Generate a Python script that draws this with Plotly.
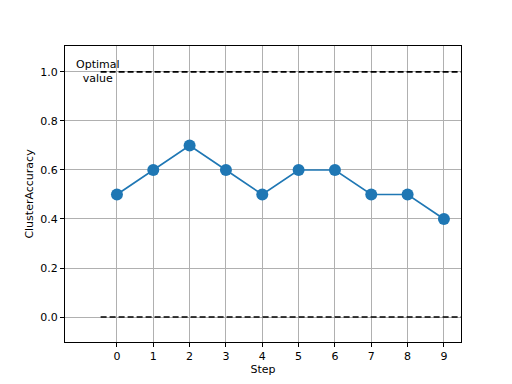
import plotly.graph_objects as go

steps = [0, 1, 2, 3, 4, 5, 6, 7, 8, 9]
accuracy = [0.5, 0.6, 0.7, 0.6, 0.5, 0.6, 0.6, 0.5, 0.5, 0.4]
optimal_value = 1.0
baseline_value = 0.0
ref_x = [-0.45, 9.6]
y_ticks = [0.0, 0.2, 0.4, 0.6, 0.8, 1.0]
y_tick_labels = ["0.0", "0.2", "0.4", "0.6", "0.8", "1.0"]

font = "DejaVu Sans"
fig = go.Figure()

for val in [optimal_value, baseline_value]:
    fig.add_trace(go.Scatter(x=ref_x, y=[val, val], mode="lines",
                             line=dict(color="black", width=1.7, dash="6px,3px"),
                             hoverinfo="skip", showlegend=False, cliponaxis=True))

fig.add_trace(go.Scatter(x=steps, y=accuracy, mode="lines+markers",
                         line=dict(color="#1f77b4", width=1.7),
                         marker=dict(color="#1f77b4", size=12),
                         showlegend=False))

fig.add_annotation(x=-0.52, y=optimal_value, text="Optimal<br>value", showarrow=False,
                   xanchor="center", yanchor="middle", align="center", yshift=0,
                   font=dict(family=font, size=11, color="black"))

axis_common = dict(showline=True, linecolor="black", linewidth=1, mirror=True,
                   ticks="outside", ticklen=4, tickcolor="black", tickwidth=1,
                   showgrid=True, gridcolor="#b0b0b0", gridwidth=0.9, zeroline=False,
                   automargin=False,
                   tickfont=dict(family=font, size=11, color="black"))

fig.update_xaxes(range=[-1.43, 9.47], tickvals=steps, ticktext=[str(s) for s in steps],
                 title=dict(text="Step", font=dict(family=font, size=11, color="black"), standoff=2),
                 **axis_common)
fig.update_yaxes(range=[-0.102, 1.106], tickvals=y_ticks, ticktext=y_tick_labels,
                 title=dict(text="ClusterAccuracy", font=dict(family=font, size=11, color="black"), standoff=4),
                 **axis_common)

fig.update_layout(width=504, height=376, margin=dict(l=57, r=51, t=38, b=42),
                  plot_bgcolor="white", paper_bgcolor="white",
                  font=dict(family=font, size=11, color="black"))

fig.write_html("out.html")
